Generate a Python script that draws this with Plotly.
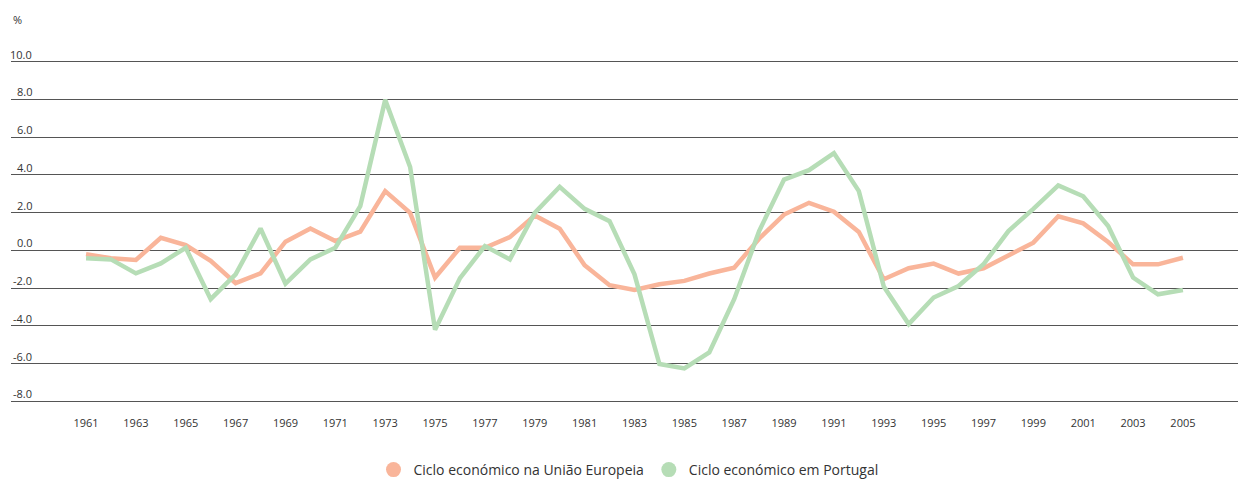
import plotly.graph_objects as go

years = list(range(1961, 2006))

eu_cycle = [-0.2, -0.42, -0.51, 0.67, 0.28, -0.56, -1.74, -1.22, 0.46, 1.16,
            0.49, 0.99, 3.14, 1.99, -1.44, 0.14, 0.14, 0.70, 1.85, 1.15,
            -0.79, -1.85, -2.10, -1.80, -1.62, -1.23, -0.92, 0.62, 1.90, 2.52,
            2.05, 0.97, -1.53, -0.95, -0.70, -1.23, -0.95, -0.26, 0.41, 1.81,
            1.43, 0.44, -0.74, -0.74, -0.39]

pt_cycle = [-0.42, -0.48, -1.22, -0.69, 0.14, -2.59, -1.27, 1.16, -1.76, -0.48,
            0.14, 2.34, 7.98, 4.42, -4.21, -1.47, 0.23, -0.48, 1.99, 3.37,
            2.20, 1.55, -1.27, -6.03, -6.26, -5.41, -2.59, 1.02, 3.75, 4.25,
            5.16, 3.14, -1.92, -3.91, -2.50, -1.89, -0.74, 1.02, 2.20, 3.44,
            2.87, 1.29, -1.44, -2.33, -2.10]

series_names = ["Ciclo económico na União Europeia", "Ciclo económico em Portugal"]
series_colors = ["#F9B59A", "#B6DDB6"]

y_ticks = [10, 8, 6, 4, 2, 0, -2, -4, -6, -8]
y_tick_labels = ["10.0", "8.0", "6.0", "4.0", "2.0", "0.0", "-2.0", "-4.0", "-6.0", "-8.0"]
x_ticks = list(range(1961, 2006, 2))
x_tick_labels = [str(y) for y in x_ticks]

FONT = "Open Sans"

fig = go.Figure()
for name, vals, col in zip(series_names, [eu_cycle, pt_cycle], series_colors):
    fig.add_trace(go.Scatter(x=years, y=vals, mode="lines", name=name,
                             line=dict(color=col, width=4.5), showlegend=False,
                             hoverinfo="x+y"))
# legend entries with circular symbols
for name, col in zip(series_names, series_colors):
    fig.add_trace(go.Scatter(x=[None], y=[None], mode="markers", name=name,
                             marker=dict(color=col, size=15, symbol="circle"),
                             showlegend=True))

annotations = []
for v, lab in zip(y_ticks, y_tick_labels):
    annotations.append(dict(x=23 / 1235, xref="paper", y=v, yref="y", text=lab,
                            showarrow=False, xanchor="right", yanchor="bottom",
                            yshift=-2, font=dict(family=FONT, size=11, color="#333333")))
annotations.append(dict(x=0, xref="paper", y=10, yref="y", text="%", showarrow=False,
                        xanchor="left", yanchor="bottom", yshift=33,
                        font=dict(family=FONT, size=11, color="#333333")))

fig.update_layout(
    width=1238, height=471,
    margin=dict(l=3, r=0, t=50, b=74, autoexpand=False),
    paper_bgcolor="white", plot_bgcolor="white",
    font=dict(family=FONT, size=11, color="#333333"),
    xaxis=dict(range=[1957.99, 2007.53], tickmode="array", tickvals=x_ticks,
               ticktext=x_tick_labels, showgrid=False, zeroline=False, showline=False,
               ticks="", ticklabelstandoff=10,
               tickfont=dict(family=FONT, size=11, color="#333333")),
    yaxis=dict(range=[-8.2, 10.2], tickmode="array", tickvals=y_ticks,
               showticklabels=False, showgrid=True, gridcolor="#555555", gridwidth=1,
               zeroline=False, showline=False, ticks=""),
    legend=dict(orientation="h", x=0.5, xanchor="center", yref="container",
                y=9 / 471, yanchor="middle",
                font=dict(family=FONT, size=14, color="#333333"),
                itemsizing="trace", traceorder="normal"),
    annotations=annotations,
    hovermode="x unified",
)

fig.write_html("out.html")
